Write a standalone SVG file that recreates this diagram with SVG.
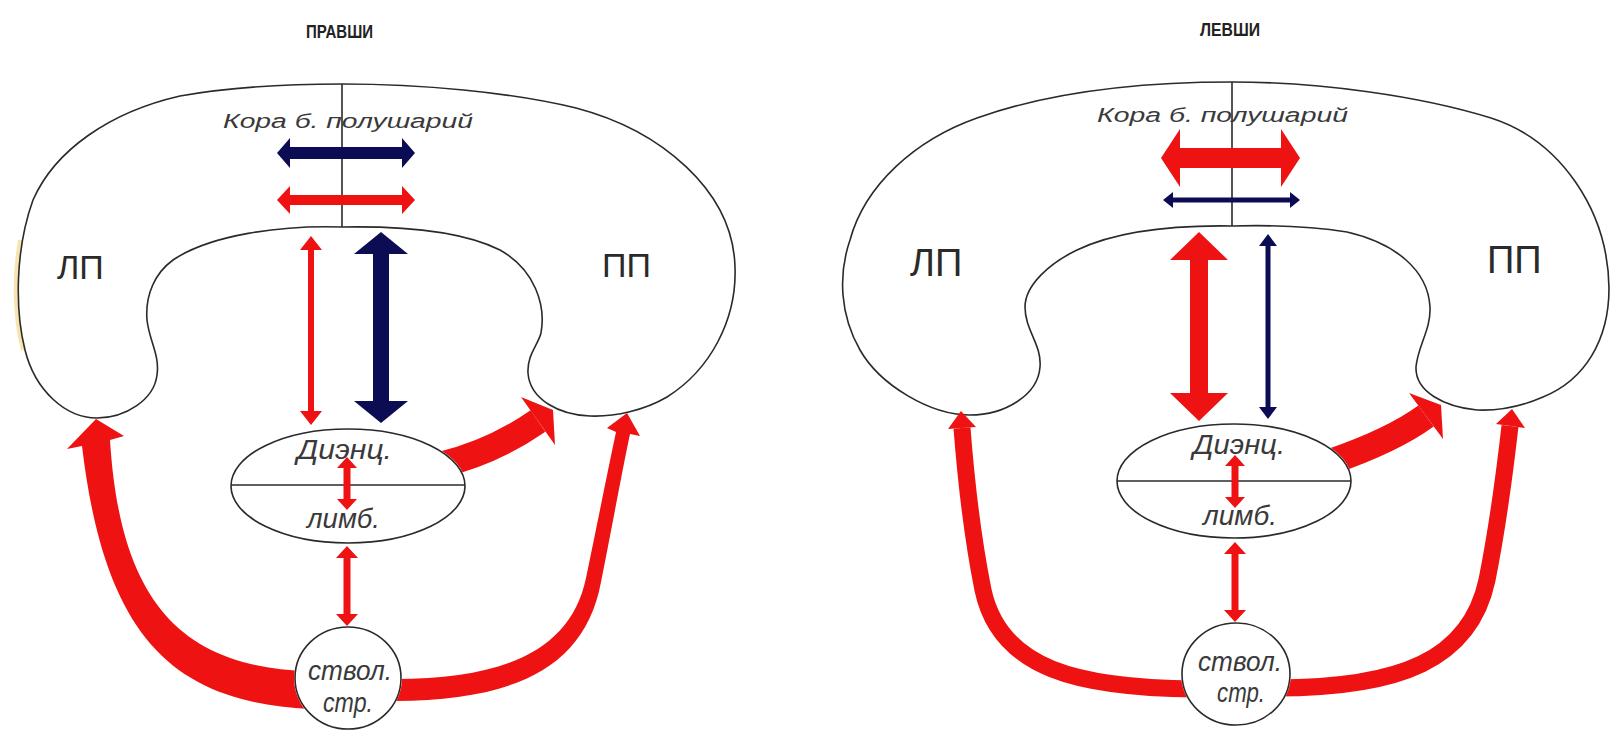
<svg xmlns="http://www.w3.org/2000/svg" width="1612" height="731" viewBox="0 0 1612 731">
<style>
.brain{fill:#fff;stroke:#2a2a2a;stroke-width:1.6}
.div{stroke:#2a2a2a;stroke-width:1.6}
.node{fill:#fff;stroke:#2a2a2a;stroke-width:1.6}
.red{fill:#ee1212}
.blue{fill:#0c0c55}
.band{fill:none;stroke:#ee1212;stroke-linecap:butt}
.title{font-family:"Liberation Sans",Arial,sans-serif;font-weight:bold;font-size:19px;fill:#222}
.lbl{font-family:"Liberation Sans",Arial,sans-serif;fill:#2a2a2a}
.it{font-family:"Liberation Sans",Arial,sans-serif;font-style:italic;fill:#3a3a3a}
</style>
<defs>
<mask id="nodeMask" maskUnits="userSpaceOnUse" x="0" y="0" width="1612" height="731">
<rect width="1612" height="731" fill="#fff"/>
<ellipse cx="348" cy="486" rx="118" ry="58" fill="#000"/>
<ellipse cx="348" cy="678" rx="54" ry="52" fill="#000"/>
<ellipse cx="1234" cy="481" rx="118" ry="58" fill="#000"/>
<ellipse cx="1236" cy="674" rx="55" ry="52" fill="#000"/>
</mask>
</defs>
<rect width="1612" height="731" fill="#fff"/>

<text class="title" x="306" y="38" textLength="67" lengthAdjust="spacingAndGlyphs">ПРАВШИ</text>
<text class="title" x="1200" y="36" textLength="60" lengthAdjust="spacingAndGlyphs">ЛЕВШИ</text>

<g id="brain-right-handed">
<path d="M 20 240 C 13 280 15 320 23 350" fill="none" stroke="#f3d27a" stroke-width="4" opacity="0.6"/>
<path class="brain" d="M 342 227 C 280 225 210 235 173 260 C 155 273 145 295 147 320 C 149 340 160 355 157 375 C 154 400 125 418 97 418 C 65 418 35 390 25 350 C 15 310 15 250 33 200 C 55 150 110 112 180 96 C 230 87 290 84 342 84 C 420 84 510 92 576 108 C 660 130 733 190 735 267 C 737 320 710 370 667 397 C 645 410 615 417 590 416 C 560 415 530 400 528 373 C 527 355 538 345 541 333 C 546 305 535 270 500 250 C 460 230 400 226 342 227 Z"/>
<line class="div" x1="342" y1="84" x2="342" y2="227"/>
<text class="it" x="223" y="128" font-size="20" textLength="250" lengthAdjust="spacingAndGlyphs">Кора б. полушарий</text>
<text class="lbl" x="57" y="279" font-size="34">ЛП</text>
<text class="lbl" x="602" y="277" font-size="34">ПП</text>
</g>

<g id="brain-left-handed">
<path class="brain" d="M 1232 226 C 1170 225 1115 232 1077 250 C 1050 263 1025 285 1025 307 C 1025 330 1042 345 1040 367 C 1038 395 1005 415 970 415 C 930 415 880 385 860 350 C 840 315 838 275 850 240 C 865 185 915 140 977 118 C 1050 92 1140 82 1232 82 C 1320 82 1420 96 1491 118 C 1560 140 1608 210 1609 288 C 1609 340 1585 380 1543 397 C 1520 407 1500 411 1477 410 C 1445 407 1415 392 1416 367 C 1418 345 1431 330 1430 307 C 1428 270 1395 243 1347 232 C 1310 226 1270 225 1232 226 Z"/>
<line class="div" x1="1232" y1="82" x2="1232" y2="226"/>
<text class="it" x="1097" y="122" font-size="20" textLength="251" lengthAdjust="spacingAndGlyphs">Кора б. полушарий</text>
<text class="lbl" x="910" y="276" font-size="38">ЛП</text>
<text class="lbl" x="1487" y="273" font-size="38">ПП</text>
</g>

<g id="dienc-right-handed">
<ellipse class="node" cx="348" cy="486" rx="117" ry="57"/>
<line class="div" x1="231" y1="485" x2="465" y2="485"/>
<text class="it" x="297" y="459" font-size="27" textLength="95" lengthAdjust="spacingAndGlyphs">Диэнц.</text>
<text class="it" x="307" y="528" font-size="27" textLength="73" lengthAdjust="spacingAndGlyphs">лимб.</text>
</g>
<g id="stem-right-handed">
<ellipse class="node" cx="348" cy="678" rx="53" ry="51"/>
<text class="it" x="308" y="680" font-size="27" textLength="84" lengthAdjust="spacingAndGlyphs">ствол.</text>
<text class="it" x="323" y="712" font-size="27" textLength="50" lengthAdjust="spacingAndGlyphs">стр.</text>
</g>

<g id="dienc-left-handed">
<ellipse class="node" cx="1234" cy="481" rx="117" ry="57"/>
<line class="div" x1="1117" y1="481" x2="1351" y2="481"/>
<text class="it" x="1193" y="454" font-size="27" textLength="92" lengthAdjust="spacingAndGlyphs">Диэнц.</text>
<text class="it" x="1203" y="525" font-size="27" textLength="74" lengthAdjust="spacingAndGlyphs">лимб.</text>
</g>
<g id="stem-left-handed">
<ellipse class="node" cx="1236" cy="674" rx="54" ry="51"/>
<text class="it" x="1198" y="671" font-size="27" textLength="84" lengthAdjust="spacingAndGlyphs">ствол.</text>
<text class="it" x="1217" y="702" font-size="27" textLength="48" lengthAdjust="spacingAndGlyphs">стр.</text>
</g>

<g id="connectors">
<g mask="url(#nodeMask)">
<path class="red" d="M 310 709 C 175 702 105 640 82 446 L 67 449 L 96 419 L 124 436 L 110 440 C 120 600 180 668 310 671 Z"/>
<path class="red" d="M 395 701 C 515 700 585 668 601 582 C 611 532 622 472 630 434 L 640 436 L 627 413 L 607 428 L 616 432 C 608 470 596 530 586 578 C 571 650 505 679 395 679 Z"/>
<path class="band" stroke-width="26" d="M 440 465 C 478 456 512 439 538 421"/>
<polygon class="red" points="521,397 553,410 555,445"/>
<polygon class="red" points="311,236 322,250 314,250 314,411 322,411 311,425 300,411 308,411 308,250 300,250"/>
<polygon class="blue" points="381,232 408,254 389,254 389,401 408,401 381,423 354,401 373,401 373,254 354,254"/>
<polygon class="red" points="347,546 358,558 350.5,558 350.5,614 358,614 347,626 336,614 343.5,614 343.5,558 336,558"/>
<path class="band" stroke-width="17" d="M 1195 689 C 1080 688 1000 670 983 590 C 973 540 966 480 962 428"/>
<polygon class="red" points="948,429 961,411 976,427"/>
<path class="band" stroke-width="17" d="M 1275 688 C 1400 688 1470 660 1487 580 C 1497 530 1505 470 1510 426"/>
<polygon class="red" points="1496,424 1512,409 1525,428"/>
<path class="band" stroke-width="26" d="M 1330 462 C 1365 450 1400 435 1426 416"/>
<polygon class="red" points="1409,393 1441,405 1443,439"/>
<polygon class="red" points="1199,232 1228,260 1208,260 1208,393 1228,393 1199,421 1170,393 1190,393 1190,260 1170,260"/>
<polygon class="blue" points="1268,234 1277,246 1270.5,246 1270.5,407 1277,407 1268,419 1259,407 1265.5,407 1265.5,246 1259,246"/>
<polygon class="red" points="1235,542 1246,554 1238.5,554 1238.5,610 1246,610 1235,622 1224,610 1231.5,610 1231.5,554 1224,554"/>
</g>
<polygon class="blue" points="277,153 290,138 290,147 402,147 402,138 415,153 402,168 402,159 290,159 290,168"/>
<polygon class="red" points="277,200 290,186 290,195 402,195 402,186 415,200 402,214 402,205 290,205 290,214"/>
<polygon class="red" points="1161,158 1180,129 1180,148 1281,148 1281,129 1300,158 1281,187 1281,168 1180,168 1180,187"/>
<polygon class="blue" points="1163,200 1173,192 1173,197.5 1290,197.5 1290,192 1300,200 1290,208 1290,202.5 1173,202.5 1173,208"/>
<polygon class="red" points="347,457 357,468 350.5,468 350.5,499 357,499 347,510 337,499 343.5,499 343.5,468 337,468"/>
<polygon class="red" points="1235,455 1245,466 1238.5,466 1238.5,497 1245,497 1235,508 1225,497 1231.5,497 1231.5,466 1225,466"/>
</g>
</svg>
